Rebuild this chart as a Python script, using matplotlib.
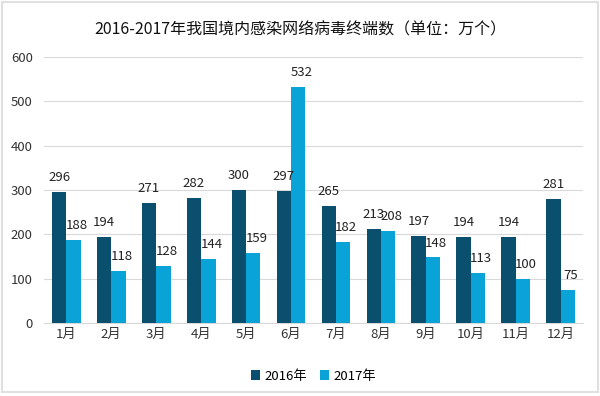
import numpy as np
import matplotlib.pyplot as plt
from matplotlib.patches import Rectangle

plt.rcParams['font.family'] = ['Noto Sans CJK SC', 'DejaVu Sans']

months = ['1月', '2月', '3月', '4月', '5月', '6月', '7月', '8月', '9月', '10月', '11月', '12月']
vals_2016 = [296, 194, 271, 282, 300, 297, 265, 213, 197, 194, 194, 281]
vals_2017 = [188, 118, 128, 144, 159, 532, 182, 208, 148, 113, 100, 75]

c2016 = '#0a4f6e'
c2017 = '#0aa3d8'

fig = plt.figure(figsize=(6, 3.96), dpi=100)
ax = fig.add_axes([0.073, 0.184, 0.899, 0.672])

x = np.arange(len(months))
w = 0.32
ax.bar(x - w / 2, vals_2016, w, color=c2016, label='2016年', zorder=3)
ax.bar(x + w / 2, vals_2017, w, color=c2017, label='2017年', zorder=3)

# labels sit above each bar, the 2017 ones nudged right a little
for i in x:
    ax.text(i - w / 2, vals_2016[i] + 18, str(vals_2016[i]), ha='center', va='bottom',
            fontsize=9.5, color='#222222')
    ax.text(i + w / 2 + 0.07, vals_2017[i] + 18, str(vals_2017[i]), ha='center', va='bottom',
            fontsize=9.5, color='#222222')

ax.set_xlim(-0.5, 11.5)
ax.set_ylim(0, 600)
ax.set_yticks(range(0, 601, 100))
ax.set_xticks(x)
ax.set_xticklabels(months)
ax.tick_params(axis='both', length=0, labelsize=9.5, colors='#333333')
ax.tick_params(axis='y', pad=8)
ax.grid(axis='y', color='#d9d9d9', linewidth=0.8, zorder=0)
for s in ['top', 'right', 'left']:
    ax.spines[s].set_visible(False)
ax.spines['bottom'].set_color('#d9d9d9')

fig.text(0.5, 0.925, '2016-2017年我国境内感染网络病毒终端数（单位：万个）', ha='center', va='center',
         fontsize=11.5, color='#111111')

ax.legend(loc='upper center', bbox_to_anchor=(0.5, -0.13), ncol=2, frameon=False,
          fontsize=9.5, handlelength=0.7, handleheight=0.7, handletextpad=0.3, columnspacing=1.0)

fig.patches.append(Rectangle((0.003, 0.01), 0.994, 0.985, transform=fig.transFigure,
                             fill=False, edgecolor='#e0e0e0', linewidth=1.5))

fig.savefig('out.png', dpi=100)
